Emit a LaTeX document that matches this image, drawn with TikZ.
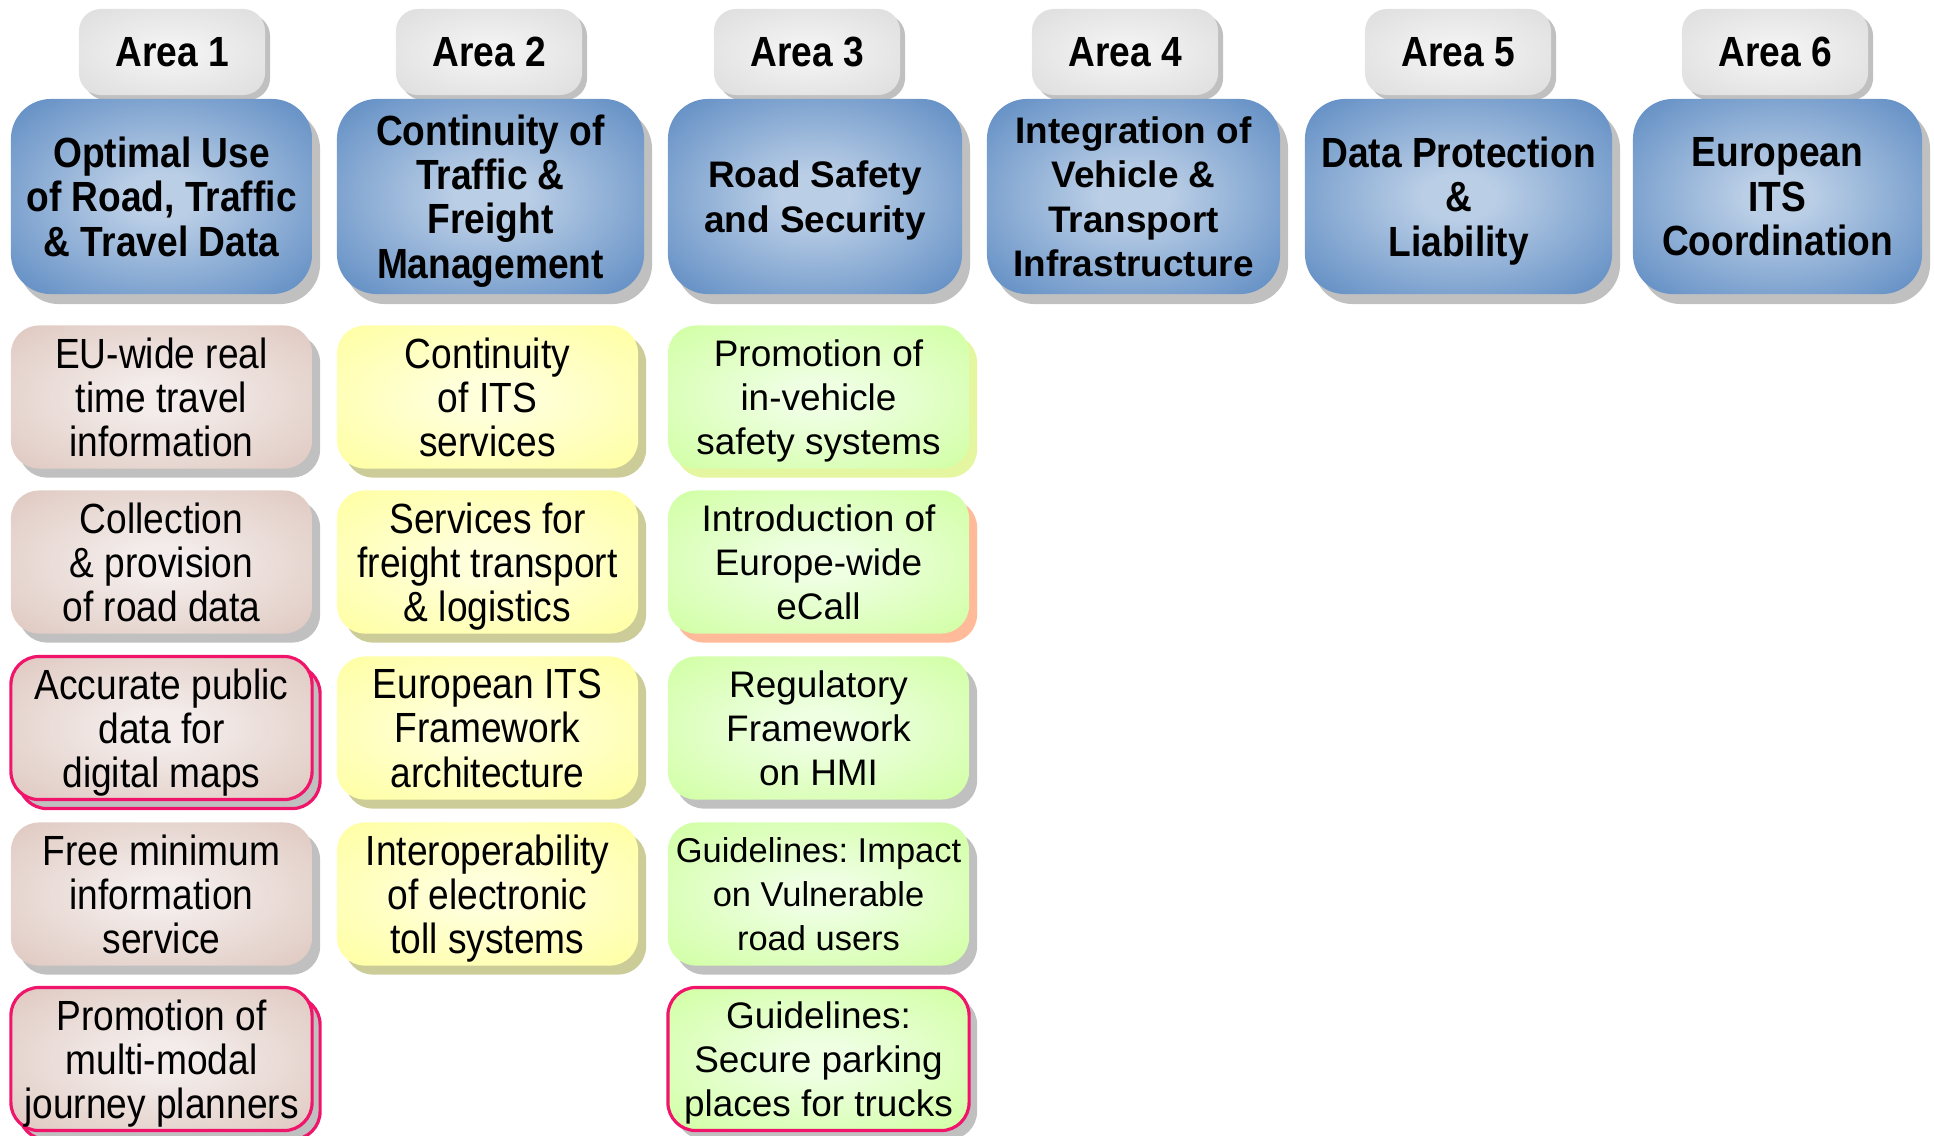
\documentclass[tikz,border=0pt]{standalone}
\usepackage{fontspec}
\setmainfont{Liberation Sans}
\newfontfamily\narrowfont[FakeStretch=0.88]{Liberation Sans}
\usetikzlibrary{shadows}
\frenchspacing

\definecolor{blueout}{HTML}{4F81BD}
\definecolor{bluein}{HTML}{BACEE6}
\definecolor{tabout}{HTML}{DADADA}
\definecolor{tabin}{HTML}{F2F2F2}
\definecolor{pinkout}{HTML}{DCC3BA}
\definecolor{pinkin}{HTML}{F3ECEA}
\definecolor{yellowout}{HTML}{FFFF99}
\definecolor{yellowin}{HTML}{FFFFDC}
\definecolor{greenout}{HTML}{CCFF99}
\definecolor{greenin}{HTML}{EEFFE2}
\definecolor{shadowgray}{HTML}{C0C0C0}
\definecolor{shadowkhaki}{HTML}{CCCC99}
\definecolor{shadowlime}{HTML}{E4F6A0}
\definecolor{shadowsalmon}{HTML}{FFBB99}
\definecolor{hotred}{HTML}{F0146A}

% centre glow, colours picked per box
\colorlet{glowin}{white}
\colorlet{glowout}{gray}
\pgfdeclareradialshading[glowin,glowout]{glow}{\pgfpointorigin}{color(0bp)=(glowin); color(6bp)=(glowin); color(40bp)=(glowout); color(50bp)=(glowout)}

\tikzset{
    glowing/.style 2 args={/utils/exec={\colorlet{glowin}{#1}\colorlet{glowout}{#2}}, shading=glow},
    shadowed/.style={drop shadow={shadow xshift=0.08cm, shadow yshift=-0.09cm, fill=#1, opacity=1}},
    narrowbold/.style={font=\narrowfont\bfseries\fontsize{12}{12.6}\selectfont},
    plainbold/.style={font=\bfseries\fontsize{10.5}{12.6}\selectfont},
    areatab/.style={rounded corners=0.22cm, minimum width=1.86cm, minimum height=0.86cm, inner sep=0pt,
        glowing={tabin}{tabout}, drop shadow={shadow xshift=0.05cm, shadow yshift=-0.05cm, fill=shadowgray, opacity=1}, narrowbold},
    topic/.style={rounded corners=0.4cm, minimum height=1.95cm, inner sep=0pt, align=center, text depth=0pt,
        glowing={bluein}{blueout}, drop shadow={shadow xshift=0.08cm, shadow yshift=-0.1cm, fill=shadowgray, opacity=1}},
    measure/.style={rounded corners=0.28cm, minimum width=3.01cm, minimum height=1.43cm, inner sep=0pt, align=center, text depth=0pt},
    pinkbox/.style={measure, glowing={pinkin}{pinkout}, font=\narrowfont\fontsize{12}{12.6}\selectfont},
    yellowbox/.style={measure, glowing={yellowin}{yellowout}, font=\narrowfont\fontsize{12}{12.6}\selectfont},
    greenbox/.style={measure, glowing={greenin}{greenout}, font=\fontsize{10.5}{12.6}\selectfont},
    flagged/.style={draw=hotred, line width=0.9pt}
}

\begin{document}
\begin{tikzpicture}[x=0.01cm, y=-0.01cm]
\useasboundingbox (0,0) rectangle (1934,1135);

% area tabs
\foreach \i/\x in {1/172, 2/489, 3/807, 4/1125, 5/1458, 6/1775}
    \node[areatab] (tab\i) at (\x,52) {Area \i};

% area headers
\node[topic, narrowbold, minimum width=3.01cm] (topic1) at (161.5,196.5) {Optimal Use\\of Road, Traffic\\\& Travel Data};
\node[topic, narrowbold, minimum width=3.07cm] (topic2) at (490.5,196.5) {Continuity of\\Traffic \&\\Freight\\Management};
\node[topic, plainbold, minimum width=2.94cm] (topic3) at (815,196.5) {Road Safety\\and Security};
\node[topic, plainbold, minimum width=2.93cm] (topic4) at (1133.5,196.5) {Integration of\\Vehicle \&\\Transport\\Infrastructure};
\node[topic, narrowbold, minimum width=3.07cm] (topic5) at (1458.5,196.5) {Data Protection\\\&\\Liability};
\node[topic, narrowbold, minimum width=2.89cm] (topic6) at (1777.5,196.5) {European\\ITS\\Coordination};

% area 1
\node[pinkbox, shadowed=shadowgray] (a1m1) at (161.5,397) {EU-wide real\\time travel\\information};
\node[pinkbox, shadowed=shadowgray] (a1m2) at (161.5,562) {Collection\\\& provision\\of road data};
\node[pinkbox, flagged, drop shadow={shadow xshift=0.08cm, shadow yshift=-0.09cm, fill=shadowgray, draw=hotred, line width=0.9pt, opacity=1}] (a1m3) at (161.5,728) {Accurate public\\data for\\digital maps};
\node[pinkbox, shadowed=shadowgray] (a1m4) at (161.5,894) {Free minimum\\information\\service};
\node[pinkbox, flagged, drop shadow={shadow xshift=0.08cm, shadow yshift=-0.09cm, fill=shadowgray, draw=hotred, line width=0.9pt, opacity=1}] (a1m5) at (161.5,1059) {Promotion of\\multi-modal\\journey planners};

% area 2
\node[yellowbox, shadowed=shadowkhaki] (a2m1) at (487.5,397) {Continuity\\of ITS\\services};
\node[yellowbox, shadowed=shadowkhaki] (a2m2) at (487.5,562) {Services for\\freight transport\\\& logistics};
\node[yellowbox, shadowed=shadowkhaki] (a2m3) at (487.5,728) {European ITS\\Framework\\architecture};
\node[yellowbox, shadowed=shadowkhaki] (a2m4) at (487.5,894) {Interoperability\\of electronic\\toll systems};

% area 3
\node[greenbox, shadowed=shadowlime] (a3m1) at (818.5,397) {Promotion of\\in-vehicle\\safety systems};
\node[greenbox, shadowed=shadowsalmon] (a3m2) at (818.5,562) {Introduction of\\Europe-wide\\eCall};
\node[greenbox, shadowed=shadowgray] (a3m3) at (818.5,728) {Regulatory\\Framework\\on HMI};
\node[greenbox, shadowed=shadowgray, font=\fontsize{9.8}{12.4}\selectfont] (a3m4) at (818.5,894) {Guidelines: Impact\\on Vulnerable\\road users};
\node[greenbox, flagged, shadowed=shadowgray] (a3m5) at (818.5,1059) {Guidelines:\\Secure parking\\places for trucks};
\end{tikzpicture}
\end{document}
